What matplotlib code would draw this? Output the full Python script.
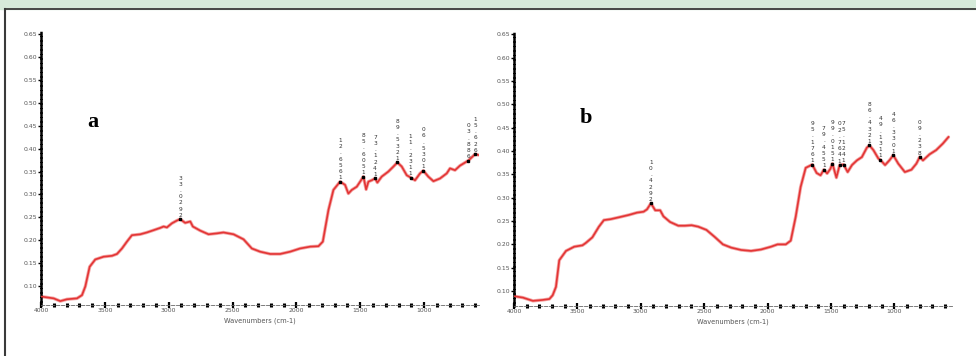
import numpy as np
import matplotlib
matplotlib.use("Agg")
import matplotlib.pyplot as plt
from matplotlib.lines import Line2D
from matplotlib.patches import Rectangle

# spectrum a
wn_a = [4000, 3901, 3849, 3797, 3718, 3679, 3653, 3619, 3575, 3510, 3444, 3405, 3366, 3327,
        3288, 3223, 3171, 3118, 3066, 3040, 3014, 2975, 2936, 2910, 2871, 2831, 2811, 2753,
        2688, 2623, 2571, 2492, 2414, 2349, 2284, 2205, 2127, 2049, 1971, 1892, 1827, 1793,
        1749, 1710, 1658, 1619, 1593, 1566, 1527, 1501, 1475, 1454, 1436, 1410, 1384, 1366,
        1332, 1280, 1240, 1209, 1175, 1136, 1105, 1071, 1032, 1006, 967, 927, 875, 823, 797,
        758, 719, 654, 601, 570]
abs_a = [0.077, 0.073, 0.067, 0.071, 0.073, 0.080, 0.099, 0.142, 0.158, 0.164, 0.166, 0.170,
         0.182, 0.197, 0.211, 0.213, 0.217, 0.222, 0.227, 0.230, 0.228, 0.237, 0.243, 0.246,
         0.238, 0.241, 0.230, 0.221, 0.213, 0.215, 0.217, 0.213, 0.202, 0.182, 0.175, 0.170,
         0.170, 0.175, 0.182, 0.186, 0.187, 0.197, 0.266, 0.310, 0.328, 0.321, 0.302, 0.310,
         0.317, 0.328, 0.339, 0.311, 0.328, 0.331, 0.335, 0.326, 0.339, 0.350, 0.361, 0.370,
         0.361, 0.342, 0.337, 0.331, 0.346, 0.352, 0.339, 0.329, 0.335, 0.346, 0.357, 0.353,
         0.363, 0.374, 0.388, 0.386]

# spectrum b
wn_b = [4000, 3930, 3851, 3773, 3721, 3695, 3669, 3643, 3590, 3525, 3460, 3434, 3382, 3330,
        3291, 3238, 3173, 3095, 3030, 2978, 2951, 2920, 2886, 2847, 2821, 2769, 2704, 2651,
        2599, 2547, 2482, 2417, 2352, 2286, 2208, 2130, 2052, 1973, 1921, 1856, 1817, 1778,
        1739, 1699, 1647, 1613, 1582, 1556, 1530, 1504, 1488, 1457, 1431, 1400, 1368, 1334,
        1295, 1256, 1217, 1196, 1165, 1126, 1110, 1073, 1039, 1008, 969, 917, 865, 826, 800,
        774, 722, 670, 617, 573]
abs_b = [0.089, 0.086, 0.079, 0.081, 0.083, 0.091, 0.109, 0.166, 0.186, 0.195, 0.198, 0.203,
         0.215, 0.238, 0.252, 0.254, 0.258, 0.263, 0.268, 0.270, 0.275, 0.288, 0.273, 0.273,
         0.260, 0.248, 0.240, 0.240, 0.241, 0.238, 0.231, 0.216, 0.200, 0.193, 0.188, 0.186,
         0.189, 0.195, 0.200, 0.200, 0.208, 0.259, 0.323, 0.364, 0.371, 0.353, 0.348, 0.360,
         0.352, 0.362, 0.373, 0.343, 0.370, 0.371, 0.355, 0.370, 0.380, 0.387, 0.407, 0.412,
         0.402, 0.384, 0.381, 0.370, 0.380, 0.391, 0.373, 0.355, 0.360, 0.373, 0.387, 0.380,
         0.393, 0.402, 0.416, 0.430]

# peak picks: position on the curve, printed label
peaks_a = [2910, 1658, 1475, 1384, 1209, 1105, 1006, 654, 601]
labels_a = ["2920.33", "1656.21", "1506.58", "1421.37", "1235.98", "1132.11", "1035.60",
            "688.30", "626.51"]
peaks_b = [2920, 1647, 1556, 1488, 1431, 1400, 1196, 1110, 1008, 800]
labels_b = ["2924.01", "1671.59", "1554.97", "1510.99", "1467.20", "1421.57", "1234.68",
            "1131.94", "1033.64", "832.90"]

yticks = np.arange(0.10, 0.651, 0.05)
xticks = [4000, 3500, 3000, 2500, 2000, 1500, 1000]

W, H = 976, 356
fig = plt.figure(figsize=(W / 100, H / 100), dpi=100)
fig.patch.set_facecolor("white")

# page frame of the scan
fig.add_artist(Rectangle((0, 1 - 9 / H), 1, 9 / H, transform=fig.transFigure,
                         color="#d6eada", zorder=0))
fig.add_artist(Line2D([5 / W, 1], [1 - 9 / H, 1 - 9 / H], transform=fig.transFigure,
                      color="#3a3a3a", lw=1.3))
fig.add_artist(Line2D([5 / W, 5 / W], [0, 1 - 9 / H], transform=fig.transFigure,
                      color="#3a3a3a", lw=1.5))


def panel(box, wn, ab, peaks, labels, ylo, xhi, tag, tagpos):
    ax = fig.add_axes(box)
    ax.plot(wn, ab, color="#f4a5a5", lw=2.4, solid_capstyle="round", zorder=2)
    ax.plot(wn, ab, color="#e33535", lw=1.2, zorder=3)
    ax.set_xlim(4000, xhi)
    ax.set_ylim(ylo, 0.655)
    ax.set_xticks(xticks)
    ax.set_xticklabels([str(t) for t in xticks])
    ax.set_xticks(np.arange(4000, xhi, -100), minor=True)
    ax.set_yticks(yticks)
    ax.set_yticklabels(["%.2f" % t for t in yticks])
    for s in ["top", "right"]:
        ax.spines[s].set_visible(False)
    ax.spines["left"].set_linestyle((0, (1, 0.8)))
    ax.spines["left"].set_linewidth(1.8)
    ax.spines["bottom"].set_linestyle((0, (4, 2)))
    ax.spines["bottom"].set_linewidth(0.6)
    ax.spines["bottom"].set_color("#666666")
    ax.tick_params(axis="y", length=2, width=1, pad=1, labelsize=4.4, labelcolor="#555555")
    ax.tick_params(axis="x", which="major", length=4, width=1.6, direction="inout",
                   pad=0.5, labelsize=4.4, labelcolor="#555555")
    ax.tick_params(axis="x", which="minor", length=2.2, width=2.2, direction="inout")
    ax.set_xlabel("Wavenumbers (cm-1)", fontsize=4.8, color="#555555", labelpad=3)
    ax.patch.set_alpha(0)

    # peak markers and stacked labels
    py = np.interp(peaks[::-1], wn[::-1], ab[::-1])[::-1]
    ax.plot(peaks, py, "s", color="black", ms=1.6, zorder=4)
    for x, y, lab in zip(peaks, py, labels):
        ax.text(x, y + 0.003, "\n".join(lab[::-1]), fontsize=4.2, color="#333333",
                ha="center", va="bottom", linespacing=1.3, zorder=5)

    ax.text(tagpos[0], tagpos[1], tag, transform=ax.transAxes, fontsize=16,
            fontweight="bold", family="Liberation Serif", ha="center", va="center")
    return ax


panel([41 / W, 1 - 305 / H, 438 / W, 273 / H], wn_a, abs_a, peaks_a, labels_a,
      0.0585, 570, "a", (0.119, 0.67))
panel([514 / W, 1 - 306 / H, 438 / W, 274 / H], wn_b, abs_b, peaks_b, labels_b,
      0.068, 545, "b", (0.164, 0.686))

fig.savefig("out.png", dpi=100)
